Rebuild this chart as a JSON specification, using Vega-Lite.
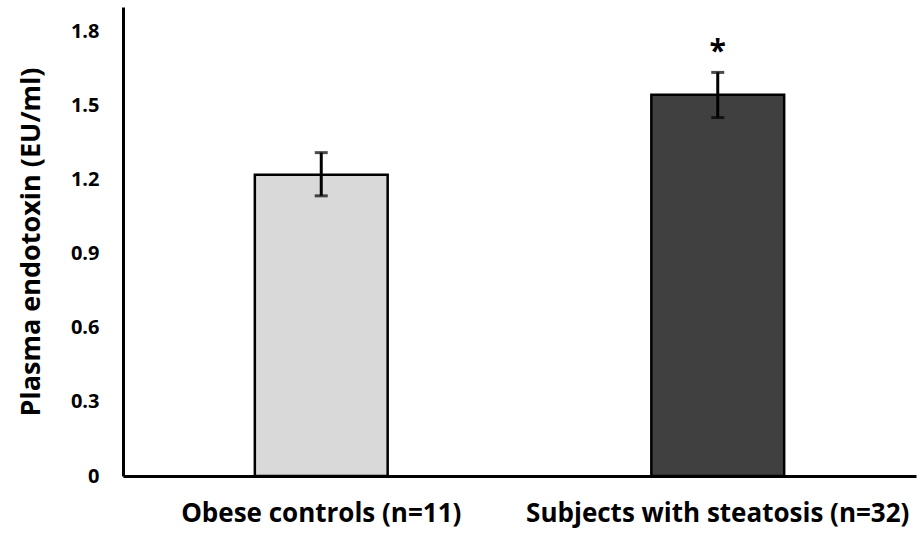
{
  "$schema": "https://vega.github.io/schema/vega-lite/v6.json",
  "width": 793,
  "height": 469,
  "autosize": {"type": "none"},
  "padding": {"left": 123, "top": 7, "right": 5, "bottom": 63},
  "background": "white",
  "config": {
    "view": {"stroke": null},
    "font": "Open Sans",
    "axis": {"labelFont": "Open Sans", "titleFont": "Open Sans", "labelColor": "black", "titleColor": "black"}
  },
  "data": {
    "values": [
      {"group": "Obese controls (n=11)", "mean": 1.22, "lo": 1.135, "hi": 1.31, "sig": ""},
      {"group": "Subjects with steatosis (n=32)", "mean": 1.545, "lo": 1.452, "hi": 1.635, "sig": "*"}
    ]
  },
  "encoding": {
    "x": {
      "field": "group",
      "type": "nominal",
      "sort": null,
      "scale": {"paddingInner": 0.665, "paddingOuter": 0.3325},
      "axis": {
        "title": null,
        "labelAngle": 0,
        "labelFontSize": 26,
        "labelFontWeight": "bold",
        "labelPadding": 24,
        "labelLimit": 0,
        "ticks": false,
        "domainColor": "black",
        "domainWidth": 3
      }
    }
  },
  "layer": [
    {
      "mark": {"type": "bar", "stroke": "black", "strokeWidth": 2.5},
      "encoding": {
        "y": {
          "field": "mean",
          "type": "quantitative",
          "scale": {"domain": [0, 1.9], "nice": false},
          "axis": {
            "title": "Plasma endotoxin (EU/ml)",
            "titleFontSize": 27,
            "titleFontWeight": "bold",
            "titlePadding": 25,
            "values": [0, 0.3, 0.6, 0.9, 1.2, 1.5, 1.8],
            "labelExpr": "datum.value == 0 ? '0' : format(datum.value, '.1f')",
            "labelFontSize": 20,
            "labelFontWeight": "bold",
            "labelPadding": 24,
            "ticks": false,
            "grid": false,
            "domainColor": "black",
            "domainWidth": 3
          }
        },
        "fill": {
          "field": "group",
          "type": "nominal",
          "scale": {"range": ["#d9d9d9", "#404040"]},
          "legend": null
        }
      }
    },
    {
      "mark": {"type": "rule", "color": "black", "strokeWidth": 3},
      "encoding": {
        "y": {"field": "lo", "type": "quantitative"},
        "y2": {"field": "hi"}
      }
    },
    {
      "mark": {"type": "tick", "color": "black", "size": 13, "thickness": 3},
      "encoding": {"y": {"field": "lo", "type": "quantitative"}}
    },
    {
      "mark": {"type": "tick", "color": "black", "size": 13, "thickness": 3},
      "encoding": {"y": {"field": "hi", "type": "quantitative"}}
    },
    {
      "mark": {"type": "text", "fontSize": 30, "fontWeight": "bold", "baseline": "middle", "dy": 14, "color": "black"},
      "encoding": {
        "y": {"field": "hi", "type": "quantitative"},
        "text": {"field": "sig"},
        "yOffset": {"value": -34}
      }
    }
  ]
}
